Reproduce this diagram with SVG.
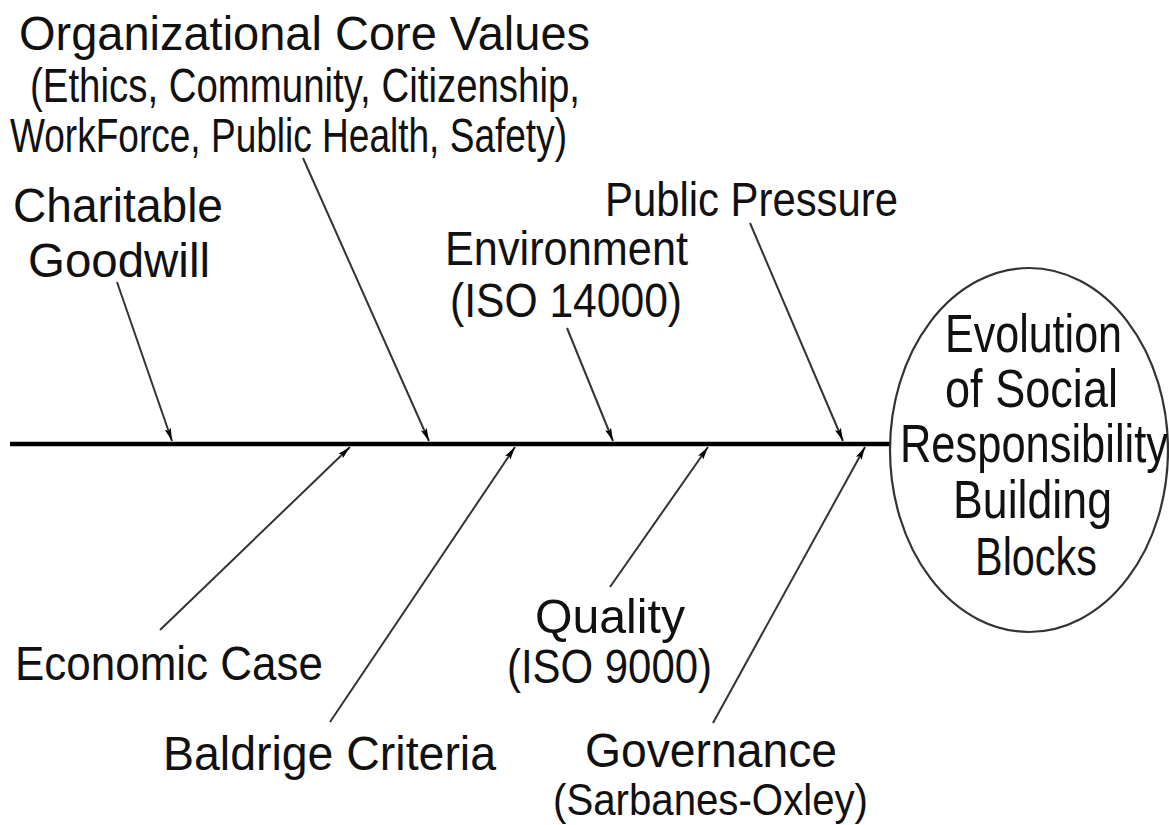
<svg xmlns="http://www.w3.org/2000/svg" width="1169" height="825" viewBox="0 0 1169 825">
  <style>
    .lbl { font-family: "Liberation Sans", Arial, sans-serif; font-size: 48px; fill: #111; }
    .big { font-size: 54px; }
    .sub { font-size: 44px; }
    .spine { stroke: #000; stroke-width: 4.5; fill: none; }
    .bone { stroke: #333; stroke-width: 2; fill: none; marker-end: url(#head); }
    .head-ellipse { stroke: #333; stroke-width: 2.2; fill: #fff; }
  </style>
  <defs>
    <marker id="head" viewBox="0 0 13 8" refX="13" refY="4" markerWidth="13" markerHeight="8" markerUnits="userSpaceOnUse" orient="auto">
      <path d="M0,0.8 L13,4 L0,7.2 L2.5,4 Z" fill="#000"/>
    </marker>
  </defs>
  <rect width="1169" height="825" fill="#fff"/>

  <!-- spine and causes -->
  <g id="connectors">
    <line class="spine" x1="10" y1="444" x2="891" y2="444"/>
    <line class="bone" x1="117" y1="282" x2="172" y2="441"/>
    <line class="bone" x1="303" y1="158" x2="429" y2="441"/>
    <line class="bone" x1="567" y1="328" x2="613" y2="441"/>
    <line class="bone" x1="750" y1="223" x2="843" y2="441"/>
    <line class="bone" x1="160" y1="630" x2="350" y2="447"/>
    <line class="bone" x1="330" y1="722" x2="515" y2="447"/>
    <line class="bone" x1="610" y1="587" x2="708" y2="447"/>
    <line class="bone" x1="713" y1="723" x2="865" y2="447"/>
  </g>

  <!-- effect (fish head) -->
  <g id="node-effect">
    <ellipse class="head-ellipse" cx="1029" cy="450" rx="139" ry="182"/>
    <text class="lbl big" x="945" y="352" textLength="177" lengthAdjust="spacingAndGlyphs">Evolution</text>
    <text class="lbl big" x="945" y="407" textLength="173" lengthAdjust="spacingAndGlyphs">of Social</text>
    <text class="lbl big" x="900" y="462" textLength="268" lengthAdjust="spacingAndGlyphs">Responsibility</text>
    <text class="lbl big" x="953" y="518" textLength="159" lengthAdjust="spacingAndGlyphs">Building</text>
    <text class="lbl big" x="975" y="575" textLength="122" lengthAdjust="spacingAndGlyphs">Blocks</text>
  </g>

  <!-- upper causes -->
  <g id="node-core-values">
    <text class="lbl" x="19" y="50" textLength="571" lengthAdjust="spacingAndGlyphs">Organizational Core Values</text>
    <text class="lbl" x="30" y="102" textLength="550" lengthAdjust="spacingAndGlyphs">(Ethics, Community, Citizenship,</text>
    <text class="lbl" x="10" y="152" textLength="557" lengthAdjust="spacingAndGlyphs">WorkForce, Public Health, Safety)</text>
  </g>
  <g id="node-charitable">
    <text class="lbl" x="13" y="222" textLength="210" lengthAdjust="spacingAndGlyphs">Charitable</text>
    <text class="lbl" x="28" y="277" textLength="182" lengthAdjust="spacingAndGlyphs">Goodwill</text>
  </g>
  <g id="node-environment">
    <text class="lbl" x="445" y="265" textLength="243" lengthAdjust="spacingAndGlyphs">Environment</text>
    <text class="lbl" x="450" y="317" textLength="232" lengthAdjust="spacingAndGlyphs">(ISO 14000)</text>
  </g>
  <g id="node-public-pressure">
    <text class="lbl" x="605" y="216" textLength="293" lengthAdjust="spacingAndGlyphs">Public Pressure</text>
  </g>

  <!-- lower causes -->
  <g id="node-economic">
    <text class="lbl" x="15" y="680" textLength="308" lengthAdjust="spacingAndGlyphs">Economic Case</text>
  </g>
  <g id="node-baldrige">
    <text class="lbl" x="163" y="770" textLength="333" lengthAdjust="spacingAndGlyphs">Baldrige Criteria</text>
  </g>
  <g id="node-quality">
    <text class="lbl" x="535" y="633" textLength="150" lengthAdjust="spacingAndGlyphs">Quality</text>
    <text class="lbl" x="507" y="683" textLength="205" lengthAdjust="spacingAndGlyphs">(ISO 9000)</text>
  </g>
  <g id="node-governance">
    <text class="lbl" x="585" y="767" textLength="252" lengthAdjust="spacingAndGlyphs">Governance</text>
    <text class="lbl sub" x="553" y="815" textLength="315" lengthAdjust="spacingAndGlyphs">(Sarbanes-Oxley)</text>
  </g>
</svg>
